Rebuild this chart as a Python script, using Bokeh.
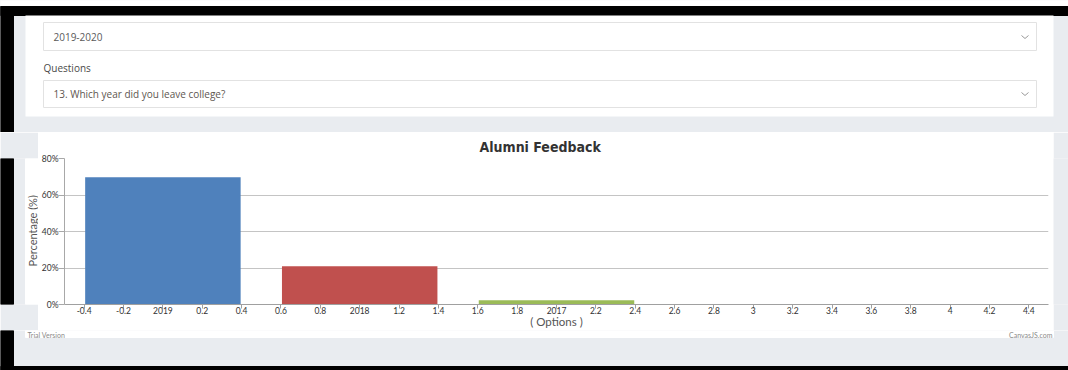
import math
from bokeh.plotting import figure
from bokeh.models import Range1d, FixedTicker, Title
from bokeh.layouts import column, row
from bokeh.core.properties import value
from bokeh.embed import file_html
from bokeh.resources import INLINE

# ---------------- data ----------------
categories = ["2019", "2018", "2017"]
x_pos = [0, 1, 2]
percent = [69.77, 20.93, 2.33]
bar_colors = ["#4F81BC", "#C0504E", "#9BBB58"]

x_tick_values = [-0.4, -0.2, 0, 0.2, 0.4, 0.6, 0.8, 1, 1.2, 1.4, 1.6, 1.8, 2,
                 2.2, 2.4, 2.6, 2.8, 3, 3.2, 3.4, 3.6, 3.8, 4, 4.2, 4.4]
x_tick_labels = ["-0.4", "-0.2", "2019", "0.2", "0.4", "0.6", "0.8", "2018",
                 "1.2", "1.4", "1.6", "1.8", "2017", "2.2", "2.4", "2.6", "2.8",
                 "3", "3.2", "3.4", "3.6", "3.8", "4", "4.2", "4.4"]
y_tick_values = [0, 20, 40, 60, 80]
y_tick_labels = ["0%", "20%", "40%", "60%", "80%"]

session_text = "2019-2020"
question_label = "Questions"
question_text = "13. Which year did you leave college?"
chart_title = "Alumni Feedback"
x_title = "( Options )"
y_title = "Percentage (%)"
trial_text = "Trial Version"
credit_text = "CanvasJS.com"

# ---------------- styles ----------------
PAGE = "#E9ECF0"
BLACK = "#000000"
WHITE = "#FFFFFF"
BOX_LINE = "#E2E2E2"


def deco(x0, x1, y0, y1, fill=PAGE):
    """Page-chrome figure drawn in window pixel coordinates (y downwards)."""
    f = figure(width=x1 - x0, height=y1 - y0, x_range=Range1d(x0, x1),
               y_range=Range1d(y1, y0), output_backend="svg",
               toolbar_location=None, title=None, min_border=0,
               x_axis_location=None, y_axis_location=None,
               background_fill_color=fill, border_fill_color=fill,
               outline_line_color=None)
    f.xgrid.visible = False
    f.ygrid.visible = False
    return f


# top part: screenshot border + form card
top = deco(0, 1068, 0, 132)
top.quad(left=[0], right=[1068], top=[0], bottom=[6], color=WHITE)
top.quad(left=[0], right=[1068], top=[6], bottom=[15], color=BLACK)
top.quad(left=[0], right=[13], top=[6], bottom=[132], color=BLACK)
top.quad(left=[25], right=[1053], top=[15], bottom=[116], fill_color=WHITE,
         line_color=None)
top.quad(left=[43, 43], right=[1036, 1036], top=[22, 80], bottom=[50, 107],
         fill_color=WHITE, line_color=BOX_LINE, line_width=1)
top.text(x=[53, 43, 53], y=[36.5, 67.5, 93.5],
         text=[session_text, question_label, question_text],
         text_font=value("Open Sans"), text_font_size="10px",
         text_baseline="middle",
         text_color=["#5a5a5a", "#4a4a4a", "#5e5650"])
for cy in (35, 92):
    top.line(x=[1021, 1024.5, 1028], y=[cy, cy + 3, cy], line_color="#9a9a9a",
             line_width=1)

# left strip of the chart card (holds the y-axis title)
left = deco(0, 38, 132, 330)
left.quad(left=[0], right=[13], top=[132], bottom=[330], color=BLACK)
left.quad(left=[25], right=[38], top=[132], bottom=[330], color=WHITE)
left.text(x=[32], y=[230], text=[y_title], angle=math.pi / 2,
          text_font=value("Lato"), text_font_size="11px",
          text_align="center", text_baseline="middle", text_color="#555555")

right = deco(1053, 1068, 132, 330)

# bottom: card footer + page bottom
bottom = deco(0, 1068, 330, 370)
bottom.quad(left=[25], right=[1053], top=[330], bottom=[337], color=WHITE)
bottom.quad(left=[0], right=[13], top=[330], bottom=[370], color=BLACK)
bottom.quad(left=[0], right=[1068], top=[366], bottom=[370], color=BLACK)
bottom.text(x=[27], y=[330], text=[trial_text], text_font=value("Lato"),
            text_font_size="7px", text_baseline="top", text_color="#8a8a8a")
bottom.text(x=[1052], y=[330], text=[credit_text], text_font=value("Lato"),
            text_font_size="7px", text_baseline="top", text_align="right",
            text_color="#8a8a8a")

# ---------------- chart ----------------
p = figure(width=1015, height=198, x_range=Range1d(-0.5, 4.5),
           y_range=Range1d(0, 80), output_backend="svg", toolbar_location=None,
           min_border_left=26, min_border_right=5, min_border_top=26,
           min_border_bottom=26, background_fill_color=WHITE,
           border_fill_color=WHITE, outline_line_color=None)

p.title = Title(text=chart_title, align="left", offset=415,
                text_font="DejaVu Sans Condensed", text_font_size="14px",
                text_font_style="bold", text_color="#333333", standoff=8)

p.vbar(x=x_pos, top=percent, width=0.79, color=bar_colors, line_color=None)

p.xgrid.visible = False
p.ygrid.grid_line_color = "#C4C4C4"
p.ygrid.grid_line_width = 1

xa = p.xaxis[0]
xa.ticker = FixedTicker(ticks=x_tick_values)
xa.major_label_overrides = dict(zip(x_tick_values, x_tick_labels))
xa.minor_tick_line_color = None
xa.major_tick_in = 0
xa.major_tick_out = 4
xa.major_label_standoff = -2
xa.axis_line_color = "#A0A0A0"
xa.major_tick_line_color = "#A0A0A0"
xa.major_label_text_font = "Lato"
xa.major_label_text_font_size = "8.5px"
xa.major_label_text_color = "#333333"
xa.axis_label = x_title
xa.axis_label_text_font = "Lato"
xa.axis_label_text_font_size = "11.5px"
xa.axis_label_text_font_style = "normal"
xa.axis_label_text_color = "#555555"
xa.axis_label_standoff = -2

ya = p.yaxis[0]
ya.ticker = FixedTicker(ticks=y_tick_values)
ya.major_label_overrides = dict(zip(y_tick_values, y_tick_labels))
ya.minor_tick_line_color = None
ya.major_tick_in = 0
ya.major_tick_out = 6
ya.major_label_standoff = 0
ya.axis_line_color = "#A8A8A8"
ya.major_tick_line_color = "#A8A8A8"
ya.major_label_text_font = "Lato"
ya.major_label_text_font_size = "8.5px"
ya.major_label_text_color = "#333333"

layout = column(top, row(left, p, right), bottom)

open("out.html", "w").write(file_html(layout, INLINE))
